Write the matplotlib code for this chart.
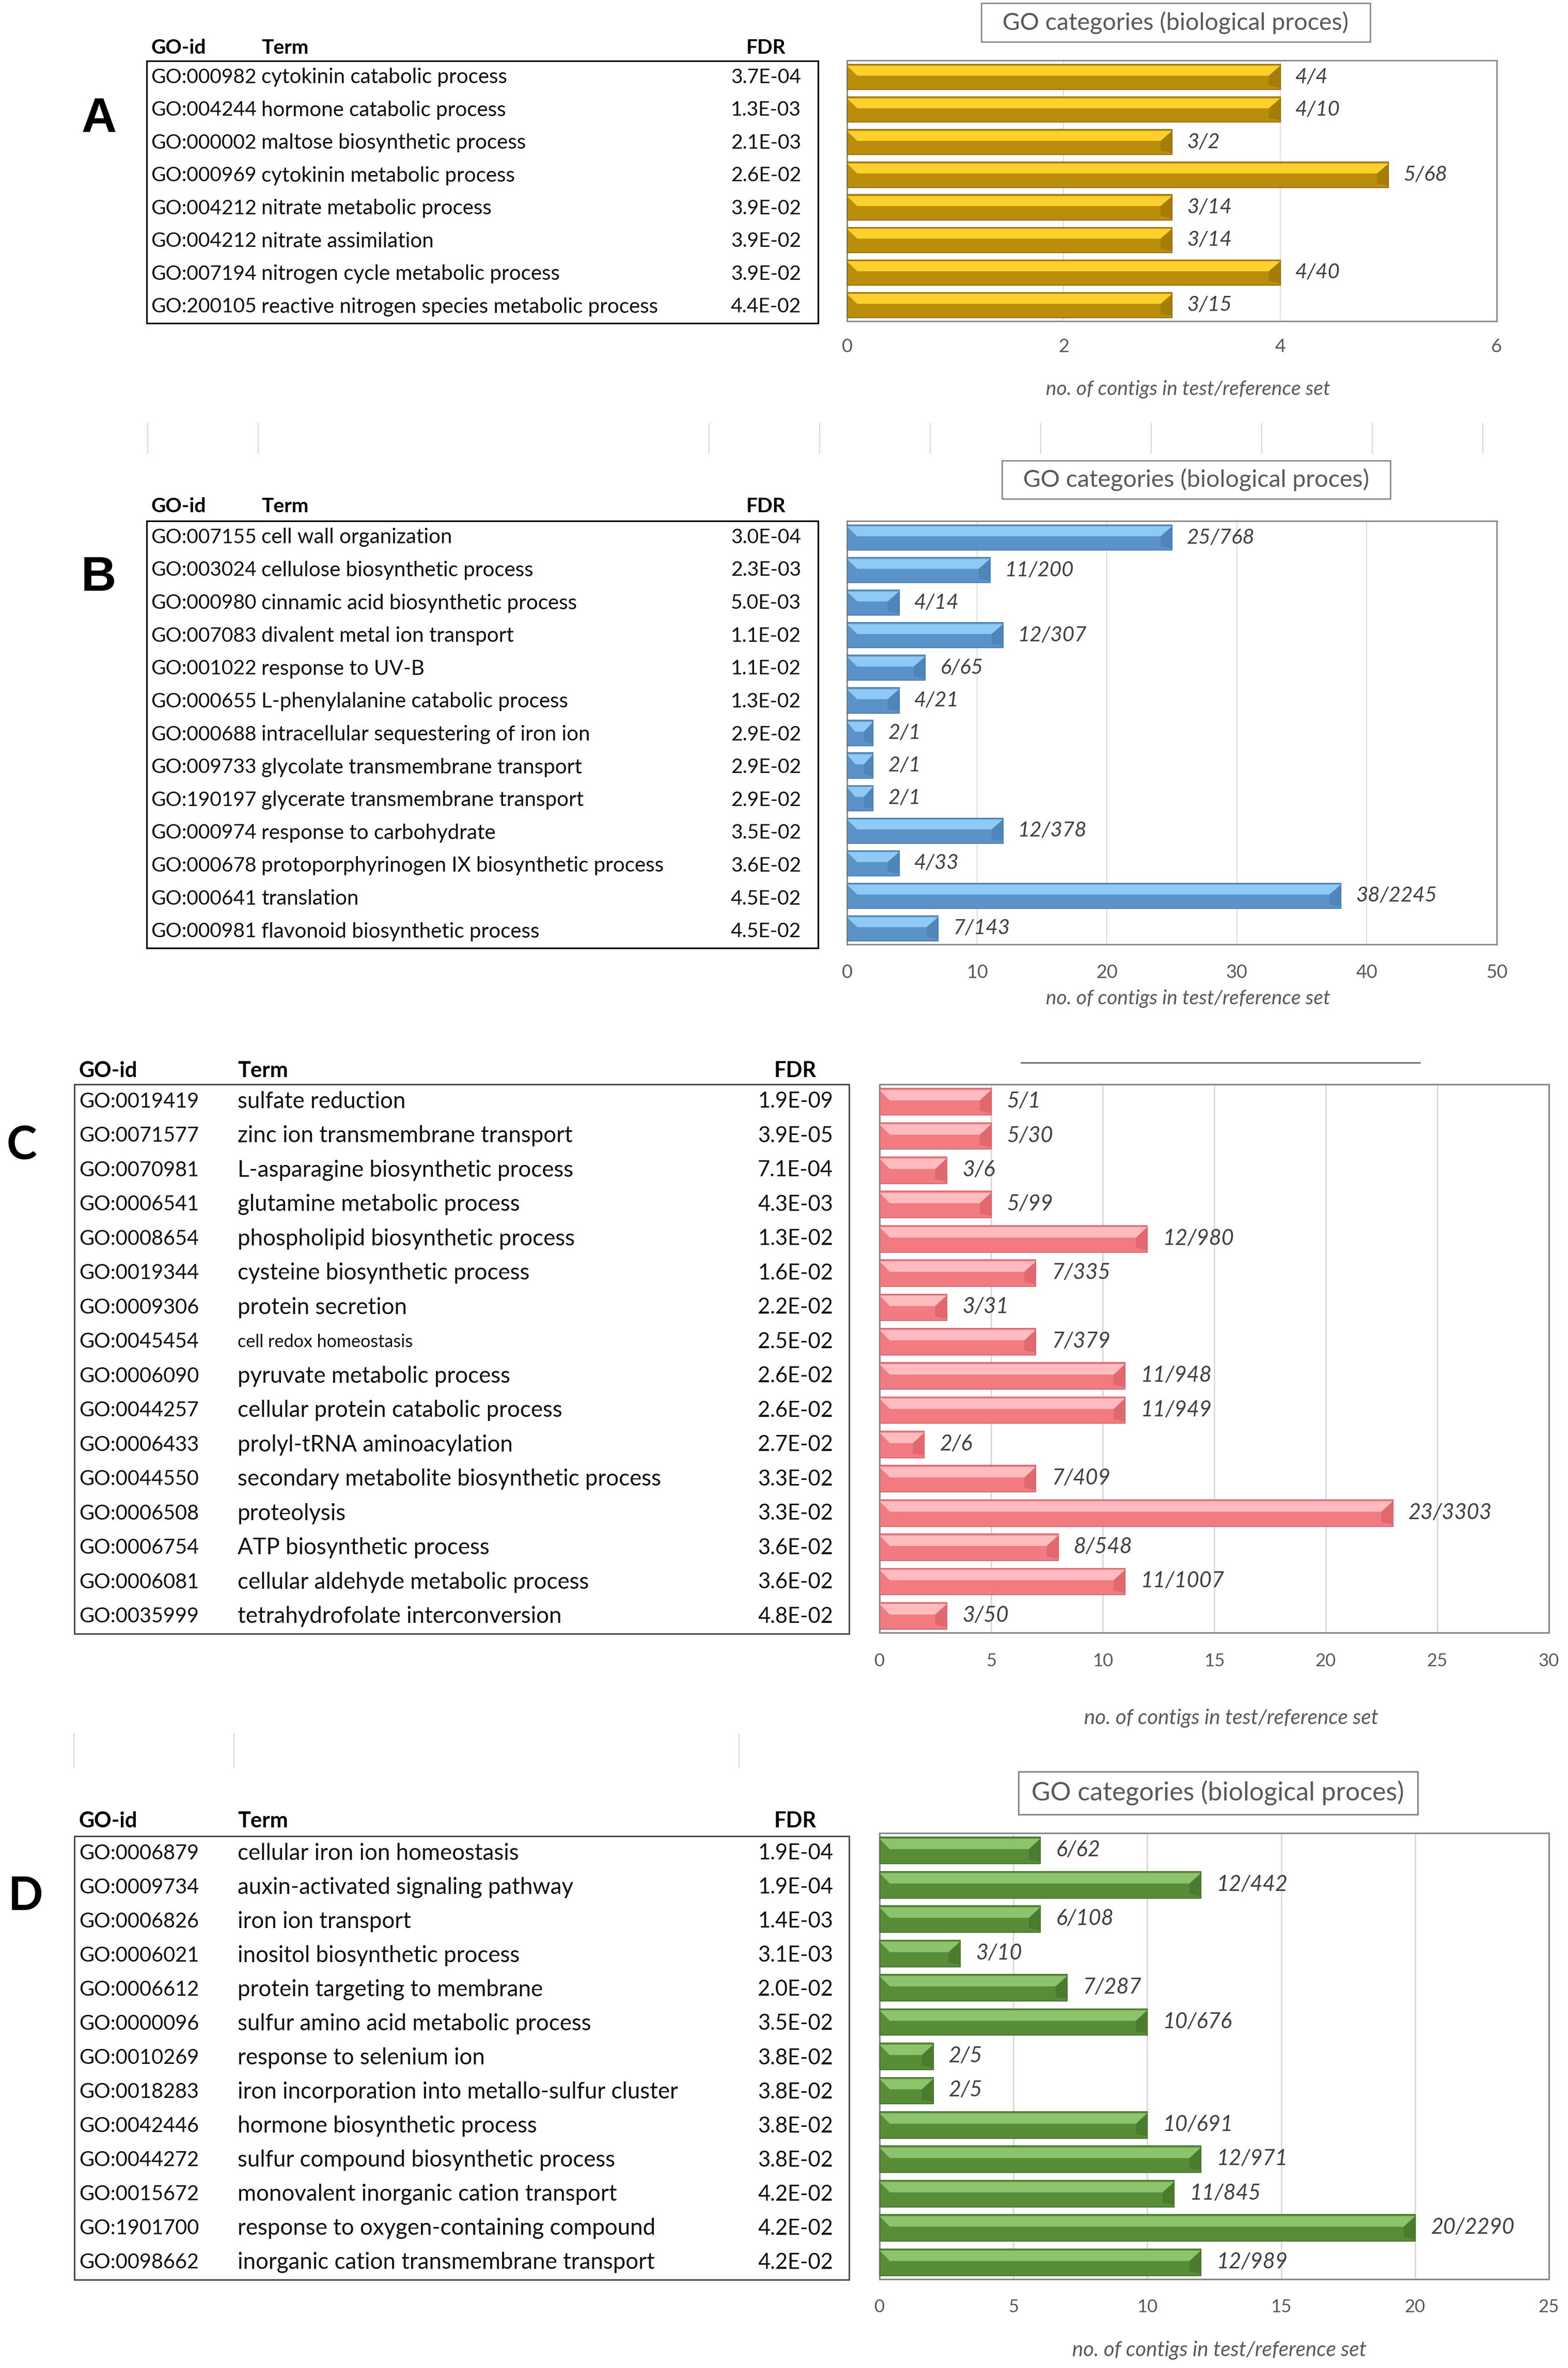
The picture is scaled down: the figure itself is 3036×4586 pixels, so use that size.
import numpy as np
import matplotlib
matplotlib.use('Agg')
import matplotlib.pyplot as plt
from matplotlib.patches import Rectangle, Polygon
from matplotlib import font_manager as fm

W, H = 3036, 4586
DPI = 100

avail = {f.name for f in fm.fontManager.ttflist}
CAL = 'Lato' if 'Lato' in avail else 'Open Sans'
LETTER = 'Liberation Sans'

# ---------------- data ----------------
A_ids = ['GO:000982', 'GO:004244', 'GO:000002', 'GO:000969', 'GO:004212',
         'GO:004212', 'GO:007194', 'GO:200105']
A_terms = ['cytokinin catabolic process', 'hormone catabolic process',
           'maltose biosynthetic process', 'cytokinin metabolic process',
           'nitrate metabolic process', 'nitrate assimilation',
           'nitrogen cycle metabolic process',
           'reactive nitrogen species metabolic process']
A_fdr = ['3.7E-04', '1.3E-03', '2.1E-03', '2.6E-02', '3.9E-02', '3.9E-02',
         '3.9E-02', '4.4E-02']
A_test = [4, 4, 3, 5, 3, 3, 4, 3]
A_ref = [4, 10, 2, 68, 14, 14, 40, 15]
A_ticks = [0, 2, 4, 6]

B_ids = ['GO:007155', 'GO:003024', 'GO:000980', 'GO:007083', 'GO:001022',
         'GO:000655', 'GO:000688', 'GO:009733', 'GO:190197', 'GO:000974',
         'GO:000678', 'GO:000641', 'GO:000981']
B_terms = ['cell wall organization', 'cellulose biosynthetic process',
           'cinnamic acid biosynthetic process', 'divalent metal ion transport',
           'response to UV-B', 'L-phenylalanine catabolic process',
           'intracellular sequestering of iron ion',
           'glycolate transmembrane transport',
           'glycerate transmembrane transport', 'response to carbohydrate',
           'protoporphyrinogen IX biosynthetic process', 'translation',
           'flavonoid biosynthetic process']
B_fdr = ['3.0E-04', '2.3E-03', '5.0E-03', '1.1E-02', '1.1E-02', '1.3E-02',
         '2.9E-02', '2.9E-02', '2.9E-02', '3.5E-02', '3.6E-02', '4.5E-02',
         '4.5E-02']
B_test = [25, 11, 4, 12, 6, 4, 2, 2, 2, 12, 4, 38, 7]
B_ref = [768, 200, 14, 307, 65, 21, 1, 1, 1, 378, 33, 2245, 143]
B_ticks = [0, 10, 20, 30, 40, 50]

C_ids = ['GO:0019419', 'GO:0071577', 'GO:0070981', 'GO:0006541', 'GO:0008654',
         'GO:0019344', 'GO:0009306', 'GO:0045454', 'GO:0006090', 'GO:0044257',
         'GO:0006433', 'GO:0044550', 'GO:0006508', 'GO:0006754', 'GO:0006081',
         'GO:0035999']
C_terms = ['sulfate reduction', 'zinc ion transmembrane transport',
           'L-asparagine biosynthetic process', 'glutamine metabolic process',
           'phospholipid biosynthetic process', 'cysteine biosynthetic process',
           'protein secretion', 'cell redox homeostasis',
           'pyruvate metabolic process', 'cellular protein catabolic process',
           'prolyl-tRNA aminoacylation',
           'secondary metabolite biosynthetic process', 'proteolysis',
           'ATP biosynthetic process', 'cellular aldehyde metabolic process',
           'tetrahydrofolate interconversion']
C_fdr = ['1.9E-09', '3.9E-05', '7.1E-04', '4.3E-03', '1.3E-02', '1.6E-02',
         '2.2E-02', '2.5E-02', '2.6E-02', '2.6E-02', '2.7E-02', '3.3E-02',
         '3.3E-02', '3.6E-02', '3.6E-02', '4.8E-02']
C_test = [5, 5, 3, 5, 12, 7, 3, 7, 11, 11, 2, 7, 23, 8, 11, 3]
C_ref = [1, 30, 6, 99, 980, 335, 31, 379, 948, 949, 6, 409, 3303, 548, 1007, 50]
C_ticks = [0, 5, 10, 15, 20, 25, 30]
C_small_terms = ['cell redox homeostasis']

D_ids = ['GO:0006879', 'GO:0009734', 'GO:0006826', 'GO:0006021', 'GO:0006612',
         'GO:0000096', 'GO:0010269', 'GO:0018283', 'GO:0042446', 'GO:0044272',
         'GO:0015672', 'GO:1901700', 'GO:0098662']
D_terms = ['cellular iron ion homeostasis', 'auxin-activated signaling pathway',
           'iron ion transport', 'inositol biosynthetic process',
           'protein targeting to membrane', 'sulfur amino acid metabolic process',
           'response to selenium ion',
           'iron incorporation into metallo-sulfur cluster',
           'hormone biosynthetic process', 'sulfur compound biosynthetic process',
           'monovalent inorganic cation transport',
           'response to oxygen-containing compound',
           'inorganic cation transmembrane transport']
D_fdr = ['1.9E-04', '1.9E-04', '1.4E-03', '3.1E-03', '2.0E-02', '3.5E-02',
         '3.8E-02', '3.8E-02', '3.8E-02', '3.8E-02', '4.2E-02', '4.2E-02',
         '4.2E-02']
D_test = [6, 12, 6, 3, 7, 10, 2, 2, 10, 12, 11, 20, 12]
D_ref = [62, 442, 108, 10, 287, 676, 5, 5, 691, 971, 845, 2290, 989]
D_ticks = [0, 5, 10, 15, 20, 25]

TITLE = 'GO categories (biological proces)'
XLABEL = 'no. of contigs in test/reference set'
HEAD = ['GO-id', 'Term', 'FDR']

GOLD = dict(base='#BA8D0B', hi='#FFD02C', shade='#A47D07', edge='#7E6004')
BLUE = dict(base='#5B93C8', hi='#8DCBF6', shade='#4F85BA', edge='#41709E')
RED = dict(base='#F27B82', hi='#FFBBC0', shade='#E26870', edge='#C65A60')
GREEN = dict(base='#578D37', hi='#8CC46B', shade='#4B7B2F', edge='#3C6325')

# ---------------- figure ----------------
fig = plt.figure(figsize=(W / DPI, H / DPI), dpi=DPI)
fig.patch.set_facecolor('white')


def px_rect(x0, y0, x1, y1):
    return [x0 / W, 1 - y1 / H, (x1 - x0) / W, (y1 - y0) / H]


ov = fig.add_axes([0, 0, 1, 1], zorder=5)
ov.set_xlim(0, W)
ov.set_ylim(H, 0)
ov.axis('off')
ov.patch.set_alpha(0)


def draw_bars(rect, test, ref, ticks, col, font, ann_size, tick_size, pad,
              frame_lw, grid_lw, ann_off):
    ax = fig.add_axes(px_rect(*rect))
    n = len(test)
    y = np.arange(n)
    h = 0.78
    xmax = ticks[-1]
    ax.set_xlim(0, xmax)
    ax.set_ylim(n - 0.5, -0.5)
    for t in ticks[1:-1]:
        ax.axvline(t, color='#D9D9D9', lw=grid_lw, zorder=1)
    ax.barh(y, test, height=h, color=col['base'], edgecolor=col['edge'],
            linewidth=1.0, zorder=3)
    ppu = (rect[2] - rect[0]) / xmax
    for yi, v, r in zip(y, test, ref):
        d = min(22.0 / ppu, v * 0.35)
        top = yi - h / 2
        bot = yi + h / 2
        t0 = top + 0.07 * h
        t1 = top + 0.46 * h
        b0 = bot - 0.07 * h
        ax.add_patch(Polygon([(v, t0), (v, b0), (v - d, b0 - 0.08 * h),
                              (v - d, t1)], closed=True,
                             facecolor=col['shade'], edgecolor='none', zorder=4))
        ax.add_patch(Polygon([(0, t0), (v, t0), (v - d, t1), (d * 0.9, t1)],
                             closed=True, facecolor=col['hi'],
                             edgecolor='none', zorder=4))
        ax.annotate(f'{v}/{r}', xy=(v, yi),
                    xytext=(ann_off, 0), textcoords='offset points',
                    va='center', ha='left', fontstyle='italic',
                    fontsize=ann_size, family=font, color='#404040', zorder=6)
    ax.set_yticks([])
    ax.set_xticks(ticks, labels=[str(t) for t in ticks], family=font,
                  fontsize=tick_size, color='#595959')
    ax.tick_params(axis='x', length=0, pad=pad)
    for s in ax.spines.values():
        s.set_color('#878787')
        s.set_linewidth(frame_lw)
    return ax


def draw_table(box, ids, terms, fdrs, font, sizes, x_id, x_term, x_fdr,
               head_y, edge, lw, small=()):
    s_id, s_term, s_fdr, s_head = sizes
    x0, y0, x1, y1 = box
    ov.add_patch(Rectangle((x0, y0), x1 - x0, y1 - y0, fill=False,
                           edgecolor=edge, linewidth=lw))
    n = len(ids)
    rh = (y1 - y0) / n
    for i, (gid, term, f) in enumerate(zip(ids, terms, fdrs)):
        yc = y0 + (i + 0.5) * rh
        ov.text(x_id, yc, gid, ha='left', va='center', family=font,
                fontsize=s_id, color='#111111')
        ov.text(x_term, yc, term, ha='left', va='center', family=font,
                fontsize=s_term * (0.78 if term in small else 1.0),
                color='#111111')
        ov.text(x_fdr, yc, f, ha='center', va='center', family=font,
                fontsize=s_fdr, color='#111111')
    for lab, xx, ha in zip(HEAD, [x_id, x_term, x_fdr], ['left', 'left', 'center']):
        ov.text(xx, head_y, lab, ha=ha, va='center', family=font,
                fontsize=s_head, fontweight='bold', color='#000000')


# ---------- Panel A ----------
ov.text(192, 232, 'A', ha='center', va='center', family=LETTER,
        fontsize=68, fontweight='bold')
draw_table((284, 118, 1584, 626), A_ids, A_terms, A_fdr, CAL, (28, 29, 28, 28),
           292, 506, 1483, 92, '#000000', 2.2)
draw_bars((1640, 117, 2898, 622), A_test, A_ref, A_ticks, GOLD, CAL,
          29, 26, 24, 2.0, 1.2, 21)
ov.add_patch(Rectangle((1900, 6), 753, 75, fill=False, edgecolor='#7F7F7F',
                       linewidth=1.8))
ov.text(2276, 44, TITLE, ha='center', va='center', family=CAL,
        fontsize=33.5, color='#595959')
ov.text(2300, 754, XLABEL, ha='center', va='center', family=CAL,
        fontsize=28, fontstyle='italic', color='#595959')

# stray grid-line fragments between A and B
for xx in [286, 500, 1373, 1587, 1801, 2015, 2229, 2443, 2657, 2871]:
    ov.plot([xx, xx], [820, 878], color='#D0D0D0', lw=1.2)

# ---------- Panel B ----------
ov.text(191, 1120, 'B', ha='center', va='center', family=LETTER,
        fontsize=68, fontweight='bold')
draw_table((284, 1009, 1584, 1836), B_ids, B_terms, B_fdr, CAL, (28, 29, 28, 28),
           292, 506, 1483, 980, '#000000', 2.2)
draw_bars((1640, 1009, 2898, 1829), B_test, B_ref, B_ticks, BLUE, CAL,
          29, 26, 27, 2.0, 1.2, 21)
ov.add_patch(Rectangle((1940, 892), 752, 74, fill=False, edgecolor='#7F7F7F',
                       linewidth=1.8))
ov.text(2316, 929, TITLE, ha='center', va='center', family=CAL,
        fontsize=33.5, color='#595959')
ov.text(2300, 1934, XLABEL, ha='center', va='center', family=CAL,
        fontsize=28, fontstyle='italic', color='#595959')

# ---------- Panel C ----------
ov.text(42, 2220, 'C', ha='center', va='center', family=CAL, fontsize=64,
        fontweight='bold')
draw_table((144, 2100, 1644, 3164), C_ids, C_terms, C_fdr, CAL,
           (28.5, 31.5, 30, 30), 153, 460, 1540, 2074, '#404040', 2.0,
           small=C_small_terms)
draw_bars((1703, 2100, 2999, 3162), C_test, C_ref, C_ticks, RED, CAL,
          30, 25, 28, 2.2, 2.0, 22)
ov.plot([1977, 2749], [2058, 2058], color='#595959', lw=1.8)
ov.text(2384, 3328, XLABEL, ha='center', va='center', family=CAL,
        fontsize=29, fontstyle='italic', color='#595959')

# ---------- Panel D ----------
for xx in [143, 453, 1431]:
    ov.plot([xx, xx], [3358, 3422], color='#D0D0D0', lw=1.2)
ov.text(50, 3673, 'D', ha='center', va='center', family=CAL, fontsize=64,
        fontweight='bold')
draw_table((144, 3556, 1644, 4415), D_ids, D_terms, D_fdr, CAL,
           (28.5, 31.5, 30, 30), 153, 460, 1540, 3527, '#404040', 2.0)
draw_bars((1703, 3550, 2999, 4414), D_test, D_ref, D_ticks, GREEN, CAL,
          30, 25, 27, 2.2, 2.0, 22)
ov.add_patch(Rectangle((1972, 3431), 773, 83, fill=False, edgecolor='#7F7F7F',
                       linewidth=2.0))
ov.text(2358, 3472, TITLE, ha='center', va='center', family=CAL,
        fontsize=36, color='#595959')
ov.text(2361, 4552, XLABEL, ha='center', va='center', family=CAL,
        fontsize=29, fontstyle='italic', color='#595959')

fig.savefig('out.png', dpi=DPI, facecolor='white')
